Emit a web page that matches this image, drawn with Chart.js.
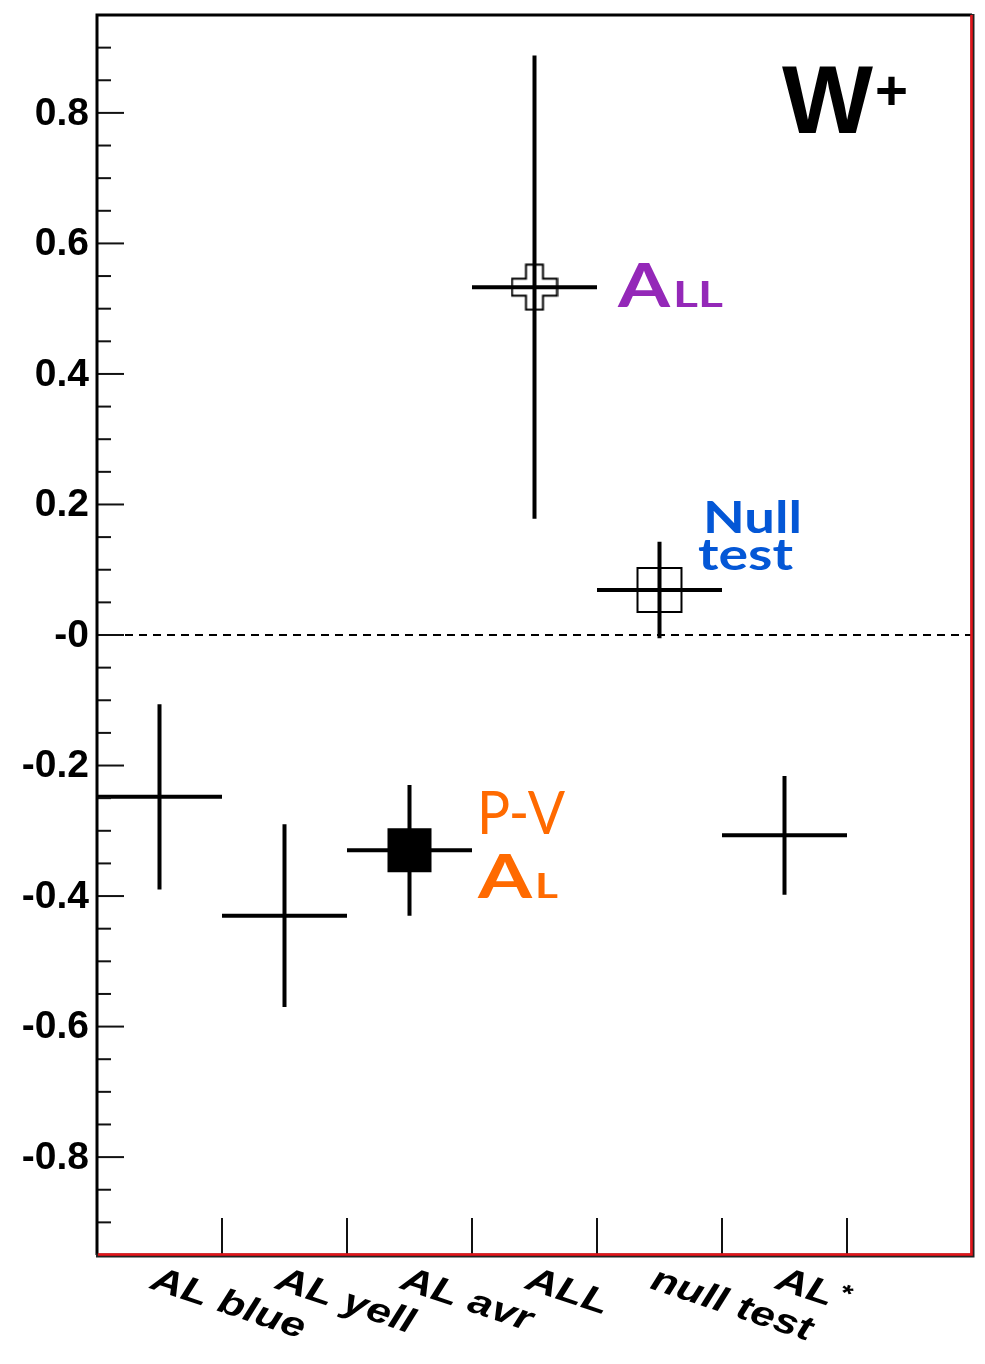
<!DOCTYPE html>
<html>
<head>
<meta charset="utf-8">
<title>W+ asymmetries</title>
<script src="https://cdn.jsdelivr.net/npm/chart.js@4/dist/chart.umd.min.js"></script>
<style>
  html, body { margin: 0; padding: 0; background: #fff; }
  canvas { display: block; }
</style>
</head>
<body>
<canvas id="asymChart" width="985" height="1364"></canvas>
<script>
// bins along x, one measurement per bin
const categories = ['AL blue', 'AL yell', 'AL avr', 'ALL', 'null test', 'AL*'];
const binCenters = [0.5, 1.5, 2.5, 3.5, 4.5, 5.5];
const binHalfWidth = [0.5, 0.5, 0.5, 0.5, 0.5, 0.5];
const asymValues = [-0.248, -0.43, -0.33, 0.533, 0.069, -0.307];
const asymErrors = [0.142, 0.14, 0.10, 0.355, 0.074, 0.091];

// y axis labels
const yTickValues = [0.8, 0.6, 0.4, 0.2, 0, -0.2, -0.4, -0.6, -0.8];
const yTickLabels = ['0.8', '0.6', '0.4', '0.2', '-0', '-0.2', '-0.4', '-0.6', '-0.8'];
const xTickValues = [1, 2, 3, 4, 5, 6];

// open cross marker used for the ALL point
function makeOpenCross() {
    const c = document.createElement('canvas');
    c.width = 48; c.height = 48;
    const g = c.getContext('2d');
    const m = 24, a = 8.5, r = 22.5;
    g.strokeStyle = '#000';
    g.lineWidth = 2;
    g.beginPath();
    g.moveTo(m - a, m - r); g.lineTo(m + a, m - r); g.lineTo(m + a, m - a);
    g.lineTo(m + r, m - a); g.lineTo(m + r, m + a); g.lineTo(m + a, m + a);
    g.lineTo(m + a, m + r); g.lineTo(m - a, m + r); g.lineTo(m - a, m + a);
    g.lineTo(m - r, m + a); g.lineTo(m - r, m - a); g.lineTo(m - a, m - a);
    g.closePath();
    g.stroke();
    return c;
}
const openCross = makeOpenCross();

const markerStyle = [false, false, 'rect', openCross, 'rect', false];
const markerRadius = [0, 0, 29.7, 24, 31.1, 0];
const markerFill = ['#000', '#000', '#000', 'rgba(0,0,0,0)', 'rgba(0,0,0,0)', '#000'];

// draw text squeezed/stretched to a given width
function fitText(ctx, text, x, y, width, font, color) {
    ctx.save();
    ctx.font = font;
    ctx.fillStyle = color;
    ctx.textAlign = 'left';
    ctx.textBaseline = 'alphabetic';
    const w = ctx.measureText(text).width;
    ctx.translate(x, y);
    ctx.scale(width / w, 1);
    ctx.fillText(text, 0, 0);
    ctx.restore();
}

const errorBars = {
    id: 'errorBars',
    beforeDatasetsDraw(chart) {
        const ctx = chart.ctx;
        const xs = chart.scales.x, ys = chart.scales.y;
        const area = chart.chartArea;

        // dashed zero line
        ctx.save();
        ctx.strokeStyle = '#000';
        ctx.lineWidth = 2;
        ctx.setLineDash([8, 6]);
        ctx.beginPath();
        ctx.moveTo(area.left, ys.getPixelForValue(0));
        ctx.lineTo(area.right, ys.getPixelForValue(0));
        ctx.stroke();
        ctx.restore();

        ctx.save();
        ctx.strokeStyle = '#000';
        ctx.lineWidth = 4;
        ctx.lineCap = 'butt';
        binCenters.forEach((x, i) => {
            const y = asymValues[i];
            const px = xs.getPixelForValue(x), py = ys.getPixelForValue(y);
            ctx.beginPath();
            ctx.moveTo(xs.getPixelForValue(x - binHalfWidth[i]), py);
            ctx.lineTo(xs.getPixelForValue(x + binHalfWidth[i]), py);
            ctx.moveTo(px, ys.getPixelForValue(y + asymErrors[i]));
            ctx.lineTo(px, ys.getPixelForValue(y - asymErrors[i]));
            ctx.stroke();
        });
        ctx.restore();
    }
};

const frameAndLabels = {
    id: 'frameAndLabels',
    afterDraw(chart) {
        const ctx = chart.ctx;
        const xs = chart.scales.x, ys = chart.scales.y;
        const a = chart.chartArea;

        ctx.save();
        // y ticks: majors every 0.2, minors every 0.05
        ctx.strokeStyle = '#111';
        ctx.lineWidth = 2;
        for (let v = -0.95; v <= 0.951; v += 0.05) {
            const vv = Math.round(v * 100) / 100;
            const major = Math.abs(Math.round(vv * 5) - vv * 5) < 1e-6;
            const py = ys.getPixelForValue(vv);
            ctx.beginPath();
            ctx.moveTo(a.left, py);
            ctx.lineTo(a.left + (major ? 27 : 14), py);
            ctx.stroke();
        }
        // x ticks
        xTickValues.forEach(v => {
            const px = xs.getPixelForValue(v);
            ctx.beginPath();
            ctx.moveTo(px, a.bottom);
            ctx.lineTo(px, a.bottom - 37);
            ctx.stroke();
        });

        // y labels
        ctx.fillStyle = '#000';
        ctx.font = 'bold 39px "Liberation Sans", Arial, sans-serif';
        ctx.textAlign = 'right';
        ctx.textBaseline = 'middle';
        yTickValues.forEach((v, i) => {
            ctx.fillText(yTickLabels[i], a.left - 8, ys.getPixelForValue(v) + 1);
        });

        // x labels, rotated clockwise and a bit wide
        const labelFont = 'italic bold 35px "Liberation Sans", Arial, sans-serif';
        categories.forEach((lab, i) => {
            const px = xs.getPixelForValue(xTickValues[i]);
            ctx.save();
            ctx.translate(px - 73, a.bottom + 33);
            ctx.rotate(18.5 * Math.PI / 180);
            ctx.scale(1.25, 1);
            ctx.textAlign = 'left';
            ctx.textBaseline = 'alphabetic';
            ctx.font = labelFont;
            if (lab.endsWith('*')) {
                const base = lab.slice(0, -1);
                ctx.fillText(base, 0, 0);
                const w = ctx.measureText(base).width;
                ctx.font = 'bold 24px "Liberation Sans", Arial, sans-serif';
                ctx.fillText('*', w + 5, -10);
            } else {
                ctx.fillText(lab, 0, 0);
            }
            ctx.restore();
        });

        // frame: black top/left, red right/bottom
        ctx.lineWidth = 3;
        ctx.strokeStyle = '#000';
        ctx.beginPath();
        ctx.moveTo(a.left, a.bottom);
        ctx.lineTo(a.left, a.top);
        ctx.lineTo(a.right, a.top);
        ctx.stroke();
        ctx.strokeStyle = '#222';
        ctx.lineWidth = 4;
        ctx.beginPath();
        ctx.moveTo(a.left - 1, a.bottom + 0.5);
        ctx.lineTo(a.right + 0.5, a.bottom + 0.5);
        ctx.lineTo(a.right + 0.5, a.top - 1);
        ctx.stroke();
        ctx.strokeStyle = '#e8141a';
        ctx.lineWidth = 2.5;
        ctx.beginPath();
        ctx.moveTo(a.left + 1, a.bottom - 0.5);
        ctx.lineTo(a.right - 0.5, a.bottom - 0.5);
        ctx.lineTo(a.right - 0.5, a.top);
        ctx.stroke();

        // annotations
        const sans = '"Liberation Sans", Arial, sans-serif';
        fitText(ctx, 'W', 782, 133, 91, 'bold 97px ' + sans, '#000');
        fitText(ctx, '+', 875, 109, 33, 'bold 56px ' + sans, '#000');

        const purple = '#9428b8';
        fitText(ctx, 'A', 618, 307, 52, 'bold 62px Lato, sans-serif', purple);
        fitText(ctx, 'LL', 673, 307, 50, 'bold 37px Lato, sans-serif', purple);

        const blue = '#0457d6';
        fitText(ctx, 'Null', 703, 533, 99, 'bold 43px Lato, sans-serif', blue);
        fitText(ctx, 'test', 698, 570, 95, 'bold 43px Lato, sans-serif', blue);

        const orange = '#ff6a00';
        fitText(ctx, 'P-V', 477, 834, 88, '60px Lato, sans-serif', orange);
        fitText(ctx, 'A', 478, 898, 54, 'bold 61px Lato, sans-serif', orange);
        fitText(ctx, 'L', 535, 898, 23, 'bold 35px Lato, sans-serif', orange);
        ctx.restore();
    }
};

new Chart(document.getElementById('asymChart'), {
    type: 'scatter',
    data: {
        datasets: [{
            label: 'asymmetry',
            data: binCenters.map((x, i) => ({ x: x, y: asymValues[i] })),
            pointStyle: markerStyle,
            pointRadius: markerRadius,
            pointBackgroundColor: markerFill,
            pointBorderColor: '#000',
            pointBorderWidth: 2,
            pointHoverRadius: markerRadius
        }]
    },
    options: {
        responsive: false,
        animation: false,
        events: [],
        layout: { autoPadding: false, padding: { left: 97, top: 15, right: 13, bottom: 109 } },
        plugins: { legend: { display: false }, tooltip: { enabled: false } },
        scales: {
            x: { type: 'linear', min: 0, max: 7, display: false },
            y: { type: 'linear', min: -0.95, max: 0.95, display: false }
        }
    },
    plugins: [errorBars, frameAndLabels]
});
</script>
</body>
</html>
